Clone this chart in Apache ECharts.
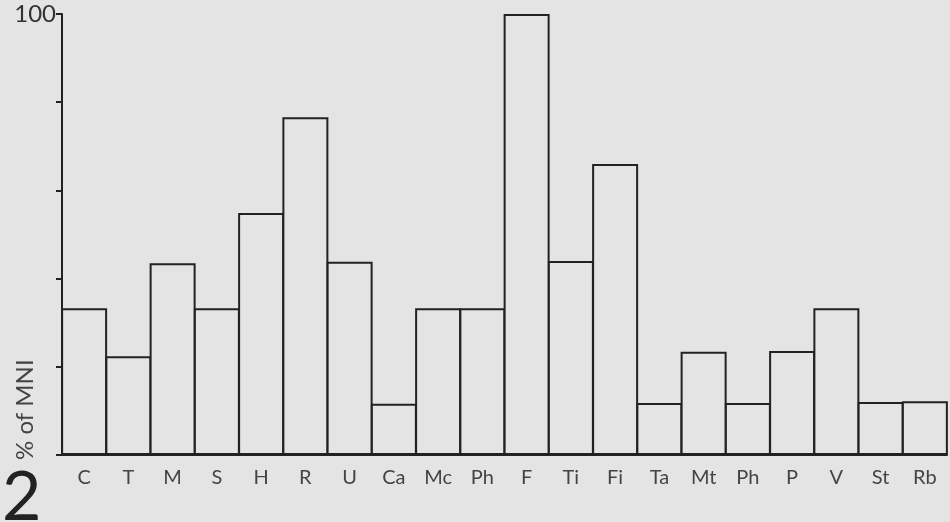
<!DOCTYPE html>
<html>
<head>
<meta charset="UTF-8">
<title>% of MNI</title>
<script src="https://cdn.jsdelivr.net/npm/echarts@6/dist/echarts.min.js"></script>
<style>
  body { margin: 0; background: #e4e4e4; }
  #chart { width: 950px; height: 522px; }
</style>
</head>
<body>
<div id="chart"></div>
<script>
// taxa (x axis)
const categories = ['C', 'T', 'M', 'S', 'H', 'R', 'U', 'Ca', 'Mc', 'Ph', 'F', 'Ti', 'Fi', 'Ta', 'Mt', 'Ph', 'P', 'V', 'St', 'Rb'];
// % of MNI
const values = [33.3, 22.4, 43.5, 33.3, 54.9, 76.6, 43.8, 11.6, 33.3, 33.3, 100, 44, 66, 11.8, 23.4, 11.8, 23.6, 33.3, 12, 12.2];

const chart = echarts.init(document.getElementById('chart'));
const ink = '#222';

chart.setOption({
  backgroundColor: '#e4e4e4',
  animation: false,
  grid: { left: 62, right: 3, top: 14, bottom: 67 },
  xAxis: {
    type: 'category',
    data: categories,
    axisLine: { lineStyle: { color: ink, width: 2 } },
    axisTick: { show: false },
    axisLabel: { color: '#444', fontSize: 20, fontFamily: 'Lato', margin: 13, interval: 0 }
  },
  yAxis: {
    type: 'value',
    min: 0,
    max: 100,
    interval: 20,
    splitLine: { show: false },
    axisLine: { show: true, lineStyle: { color: ink, width: 2 } },
    axisTick: { show: true, length: 6, lineStyle: { color: ink, width: 2 } },
    axisLabel: {
      color: '#333', fontSize: 24, fontFamily: 'Lato', margin: 6,
      padding: [10, 0, 0, 0],
      formatter: v => v === 100 ? '100' : ''
    }
  },
  series: [{
    type: 'bar',
    data: values,
    barWidth: 46,
    itemStyle: { color: '#e4e4e4', borderColor: ink, borderWidth: 2 }
  }],
  graphic: [
    {
      type: 'text', x: 13, y: 460, rotation: Math.PI / 2,
      style: { text: '% of MNI', fill: '#444', fontSize: 24, fontFamily: 'Lato' }
    },
    {
      type: 'text', x: 2, y: 464,
      style: { text: '2', fill: '#222', fontSize: 68, fontFamily: 'Lato' }
    }
  ]
});
</script>
</body>
</html>
